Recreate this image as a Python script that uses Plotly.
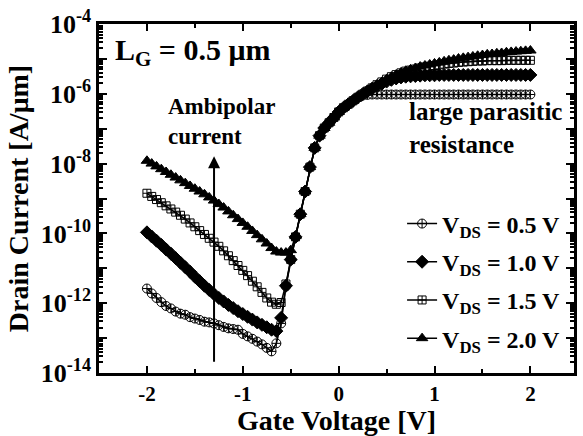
import plotly.graph_objects as go

# Gate voltage sweep [V]
vg = [-2.00, -1.95, -1.90, -1.85, -1.80, -1.75, -1.70, -1.65, -1.60, -1.55,
      -1.50, -1.45, -1.40, -1.35, -1.30, -1.25, -1.20, -1.15, -1.10, -1.05,
      -1.00, -0.95, -0.90, -0.85, -0.80, -0.75, -0.70, -0.65, -0.60, -0.55,
      -0.50, -0.45, -0.40, -0.35, -0.30, -0.25, -0.20, -0.15, -0.10, -0.05,
      0.00, 0.05, 0.10, 0.15, 0.20, 0.25, 0.30, 0.35, 0.40, 0.45,
      0.50, 0.55, 0.60, 0.65, 0.70, 0.75, 0.80, 0.85, 0.90, 0.95,
      1.00, 1.05, 1.10, 1.15, 1.20, 1.25, 1.30, 1.35, 1.40, 1.45,
      1.50, 1.55, 1.60, 1.65, 1.70, 1.75, 1.80, 1.85, 1.90, 1.95, 2.00]

# log10 of drain current [A/um]
log_id_vds05 = [-11.58, -11.72, -11.85, -11.97, -12.08, -12.15, -12.24, -12.30, -12.33, -12.40,
                -12.44, -12.48, -12.53, -12.55, -12.58, -12.63, -12.68, -12.72, -12.74, -12.76,
                -12.88, -12.95, -13.02, -13.10, -13.18, -13.28, -13.38, -13.15, -12.58, -11.52,
                -10.76, -10.10, -9.45, -8.80, -8.10, -7.55, -7.20, -6.98, -6.83, -6.68,
                -6.52, -6.40, -6.30, -6.20, -6.11, -6.05, -6.03, -6.02, -6.02, -6.02,
                -6.02, -6.02, -6.02, -6.02, -6.02, -6.02, -6.02, -6.02, -6.02, -6.02,
                -6.02, -6.02, -6.02, -6.02, -6.02, -6.02, -6.02, -6.02, -6.02, -6.02,
                -6.02, -6.02, -6.02, -6.02, -6.02, -6.02, -6.02, -6.02, -6.02, -6.02, -6.02]

log_id_vds10 = [-9.97, -10.09, -10.21, -10.33, -10.46, -10.58, -10.71, -10.84, -10.97, -11.10,
                -11.24, -11.37, -11.50, -11.62, -11.74, -11.85, -11.95, -12.05, -12.14, -12.23,
                -12.31, -12.39, -12.47, -12.55, -12.62, -12.69, -12.76, -12.80, -12.42, -11.50,
                -10.75, -10.10, -9.45, -8.80, -8.10, -7.55, -7.20, -6.98, -6.83, -6.68,
                -6.52, -6.40, -6.30, -6.20, -6.10, -6.01, -5.93, -5.85, -5.78, -5.71,
                -5.65, -5.60, -5.56, -5.53, -5.51, -5.50, -5.49, -5.48, -5.47, -5.47,
                -5.47, -5.46, -5.46, -5.46, -5.46, -5.46, -5.46, -5.46, -5.46, -5.46,
                -5.46, -5.46, -5.46, -5.46, -5.46, -5.46, -5.46, -5.46, -5.46, -5.46, -5.46]

log_id_vds15 = [-8.85, -8.94, -9.03, -9.12, -9.21, -9.30, -9.39, -9.48, -9.59, -9.70,
                -9.81, -9.92, -10.03, -10.14, -10.25, -10.37, -10.50, -10.64, -10.78, -10.92,
                -11.06, -11.21, -11.37, -11.53, -11.69, -11.85, -11.97, -12.03, -11.98, -11.45,
                -10.75, -10.10, -9.45, -8.80, -8.10, -7.55, -7.20, -6.98, -6.83, -6.68,
                -6.52, -6.40, -6.30, -6.20, -6.10, -6.01, -5.92, -5.83, -5.74, -5.66,
                -5.58, -5.51, -5.45, -5.40, -5.35, -5.32, -5.29, -5.26, -5.23, -5.21,
                -5.19, -5.17, -5.15, -5.13, -5.12, -5.10, -5.09, -5.08, -5.07, -5.06,
                -5.06, -5.05, -5.05, -5.05, -5.05, -5.04, -5.04, -5.04, -5.04, -5.04, -5.04]

log_id_vds20 = [-7.92, -8.00, -8.08, -8.16, -8.24, -8.32, -8.40, -8.48, -8.56, -8.64,
                -8.72, -8.80, -8.88, -8.97, -9.06, -9.16, -9.26, -9.37, -9.48, -9.59,
                -9.70, -9.81, -9.93, -10.05, -10.17, -10.29, -10.42, -10.52, -10.55, -10.55,
                -10.48, -10.08, -9.45, -8.80, -8.10, -7.55, -7.20, -6.98, -6.83, -6.68,
                -6.52, -6.40, -6.30, -6.20, -6.10, -6.01, -5.92, -5.83, -5.74, -5.66,
                -5.58, -5.51, -5.45, -5.39, -5.34, -5.30, -5.26, -5.22, -5.19, -5.16,
                -5.13, -5.10, -5.07, -5.04, -5.02, -4.99, -4.97, -4.95, -4.93, -4.91,
                -4.89, -4.87, -4.86, -4.84, -4.83, -4.81, -4.80, -4.79, -4.78, -4.77, -4.76]

series_names = ["V<sub>DS</sub> = 0.5 V", "V<sub>DS</sub> = 1.0 V",
                "V<sub>DS</sub> = 1.5 V", "V<sub>DS</sub> = 2.0 V"]
series_logs = [log_id_vds05, log_id_vds10, log_id_vds15, log_id_vds20]
series_symbols = ["circle-cross-open", "diamond", "square-cross-open", "triangle-up"]
series_sizes = [9, 10, 8, 10]

y_tick_exps = [-14, -13, -12, -11, -10, -9, -8, -7, -6, -5, -4]
y_minor_mult = [2, 3, 4, 5, 6, 7, 8, 9]
x_tick_vals = [-2, -1, 0, 1, 2]

FONT = "Liberation Serif, Times New Roman, serif"

fig = go.Figure()
for i, (name, logs, sym, sz) in enumerate(zip(series_names, series_logs, series_symbols, series_sizes)):
    fig.add_trace(go.Scatter(
        x=vg, y=[10 ** v for v in logs], mode="lines+markers", name=name,
        legendgroup="g%d" % i,
        line=dict(color="black", width=1.5),
        marker=dict(symbol=sym, size=sz, color="black",
                    line=dict(color="black", width=1)),
    ))

fig.add_annotation(x=-1.3, y=-7.79, ax=-1.3, ay=-13.72, xref="x", yref="y",
                   axref="x", ayref="y", text="", showarrow=True,
                   arrowhead=2, arrowsize=1.2, arrowwidth=2, arrowcolor="black")

fig.add_annotation(x=(113 - 99) / 478, y=1 - (47 - 19) / 354, xref="paper", yref="paper",
                   text="L<sub>G</sub> = 0.5 μm", showarrow=False, xanchor="left",
                   yanchor="middle", font=dict(family=FONT, size=30, color="black", weight="bold"))
fig.add_annotation(x=(166 - 99) / 478, y=1 - (118 - 19) / 354, xref="paper", yref="paper",
                   text="Ambipolar<br>current", showarrow=False, xanchor="left", align="left",
                   yanchor="middle", font=dict(family=FONT, size=23, color="black", weight="bold"))
fig.add_annotation(x=(409 - 99) / 478, y=1 - (124 - 19) / 354, xref="paper", yref="paper",
                   text="large parasitic<br>resistance", showarrow=False, xanchor="left", align="left",
                   yanchor="middle", font=dict(family=FONT, size=25, color="black", weight="bold"))

fig.update_xaxes(
    range=[-2.5, 2.455], tickmode="array", tickvals=x_tick_vals,
    ticktext=[str(v) for v in x_tick_vals],
    ticks="inside", ticklen=7, tickwidth=2, tickcolor="black",
    minor=dict(ticks="inside", ticklen=4, tickwidth=2, tickcolor="black",
               tickmode="linear", tick0=-2.5, dtick=0.5),
    showline=True, linewidth=2.5, linecolor="black", mirror="ticks",
    showgrid=False, zeroline=False,
    tickfont=dict(family=FONT, size=21, color="black", weight="bold"),
    title=dict(text="Gate Voltage [V]", standoff=0,
               font=dict(family=FONT, size=28, color="black", weight="bold")),
)
fig.update_yaxes(
    type="log", range=[-14, -4], tickmode="array",
    tickvals=[10 ** e for e in y_tick_exps],
    ticktext=[("10<sup>%d</sup>" % e) if e % 2 == 0 else "" for e in y_tick_exps],
    ticks="inside", ticklen=8, tickwidth=2, tickcolor="black",
    minor=dict(ticks="inside", ticklen=4, tickwidth=1.5, tickcolor="black",
               tickmode="array",
               tickvals=[m * 10 ** e for e in y_tick_exps[:-1] for m in y_minor_mult]),
    showline=True, linewidth=2.5, linecolor="black", mirror="ticks",
    showgrid=False, zeroline=False,
    tickfont=dict(family=FONT, size=26, color="black", weight="bold"),
    title=dict(text="Drain Current [A/μm]", standoff=4,
               font=dict(family=FONT, size=28, color="black", weight="bold")),
)

fig.update_layout(
    width=583, height=436,
    margin=dict(l=99, r=6, t=19, b=63),
    paper_bgcolor="white", plot_bgcolor="white",
    font=dict(family=FONT, color="black"),
    showlegend=True,
    legend=dict(x=(404 - 99) / 478, y=1 - (199 - 19) / 354, xanchor="left", yanchor="top",
                bgcolor="rgba(0,0,0,0)", borderwidth=0, tracegroupgap=4,
                font=dict(family=FONT, size=24, color="black", weight="bold"),
                itemwidth=30),
)

fig.write_html("out.html")
